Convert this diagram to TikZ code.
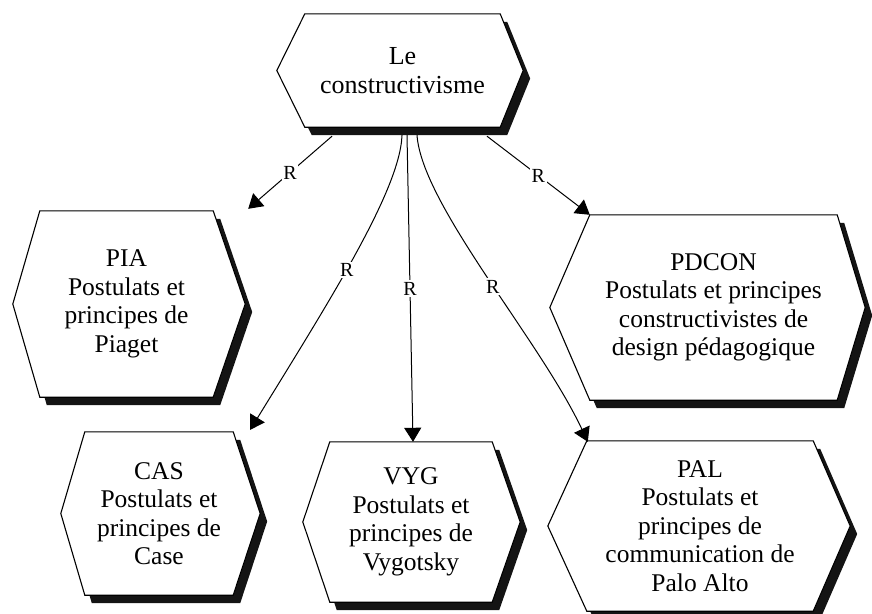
\documentclass[tikz,border=0pt]{standalone}
\usepackage{fontspec}
\setmainfont{LiberationSerif}[Extension=.ttf, UprightFont=*-Regular,
  BoldFont=*-Bold, ItalicFont=*-Italic, BoldItalicFont=*-BoldItalic]
\usetikzlibrary{calc,arrows.meta,backgrounds}

\tikzset{
  hexnode/.style={rectangle, inner sep=0pt, align=center,
    font=\rmfamily\fontsize{25.5}{28.5}\selectfont},
  hexline/.style={draw=black, fill=white, line width=1.1pt, line join=miter},
  hexshadow/.style={fill=black!92},
  relarrow/.style={line width=1pt, -{Triangle[length=14pt,width=17pt]}},
  rlabel/.style={fill=white, inner sep=1.5pt, font=\rmfamily\fontsize{20}{22}\selectfont}
}

% Hexagon with drop shadow around a named node: #1 node, #2 left point, #3 right point
\newcommand\hexagonbox[3]{%
  \begin{scope}[on background layer]
    \fill[hexshadow] ($(#1.north west)+(7,8)$) -- ($(#1.north east)+(7,8)$)
      -- ($(#1.east)+(#3+7,8)$) -- ($(#1.south east)+(7,8)$)
      -- ($(#1.south west)+(7,8)$) -- ($(#1.west)+(-#2+7,8)$) -- cycle;
    \path[hexline] (#1.north west) -- (#1.north east) -- ($(#1.east)+(#3,0)$)
      -- (#1.south east) -- (#1.south west) -- ($(#1.west)+(-#2,0)$) -- cycle;
  \end{scope}}

\begin{document}
\begin{tikzpicture}[x=1pt,y=-1pt]
  \useasboundingbox (0,0) rectangle (872,613);

  \node[hexnode, minimum width=195pt, minimum height=113pt,
        font=\rmfamily\fontsize{26}{29}\selectfont] (top) at (402.5,70.5)
        {Le\\constructivisme};
  \node[hexnode, minimum width=173pt, minimum height=186pt] (pia) at (126.5,304)
        {PIA\\Postulats et\\principes de\\Piaget};
  \node[hexnode, minimum width=247pt, minimum height=185pt] (pdcon) at (713.5,307.5)
        {PDCON\\Postulats et principes\\constructivistes de\\design pédagogique};
  \node[hexnode, minimum width=148pt, minimum height=163pt] (cas) at (159,513.5)
        {CAS\\Postulats et\\principes de\\Case};
  \node[hexnode, minimum width=162pt, minimum height=160pt] (vyg) at (411,522)
        {VYG\\Postulats et\\principes de\\Vygotsky};
  \node[hexnode, minimum width=226pt, minimum height=170pt] (pal) at (700,526)
        {PAL\\Postulats et\\principes de\\communication de\\Palo Alto};

  \hexagonbox{top}{28}{23}
  \hexagonbox{pia}{27}{32}
  \hexagonbox{pdcon}{40}{28}
  \hexagonbox{cas}{24}{27}
  \hexagonbox{vyg}{27}{28}
  \hexagonbox{pal}{39}{37}

  % relations from the central concept
  \draw[relarrow] ($(top.south)+(-70.5,9)$) -- node[rlabel]{R}
        ($(pia.north east)+(35,-2)$);
  \draw[relarrow] ($(top.south)+(84.5,9)$) -- node[rlabel]{R}
        (pdcon.north west);
  \draw[relarrow] ($(top.south)+(-0.5,8)$) .. controls (400,190) and (330,300) ..
        node[rlabel, pos=0.55]{R} ($(cas.north east)+(17,-2)$);
  \draw[relarrow] ($(top.south)+(4.5,8)$) -- node[rlabel]{R}
        ($(vyg.north)+(2,0)$);
  \draw[relarrow] ($(top.south)+(14.5,8)$) .. controls (422,205) and (540,340) ..
        node[rlabel, pos=0.53]{R} ($(pal.north west)+(1,1)$);
\end{tikzpicture}
\end{document}
